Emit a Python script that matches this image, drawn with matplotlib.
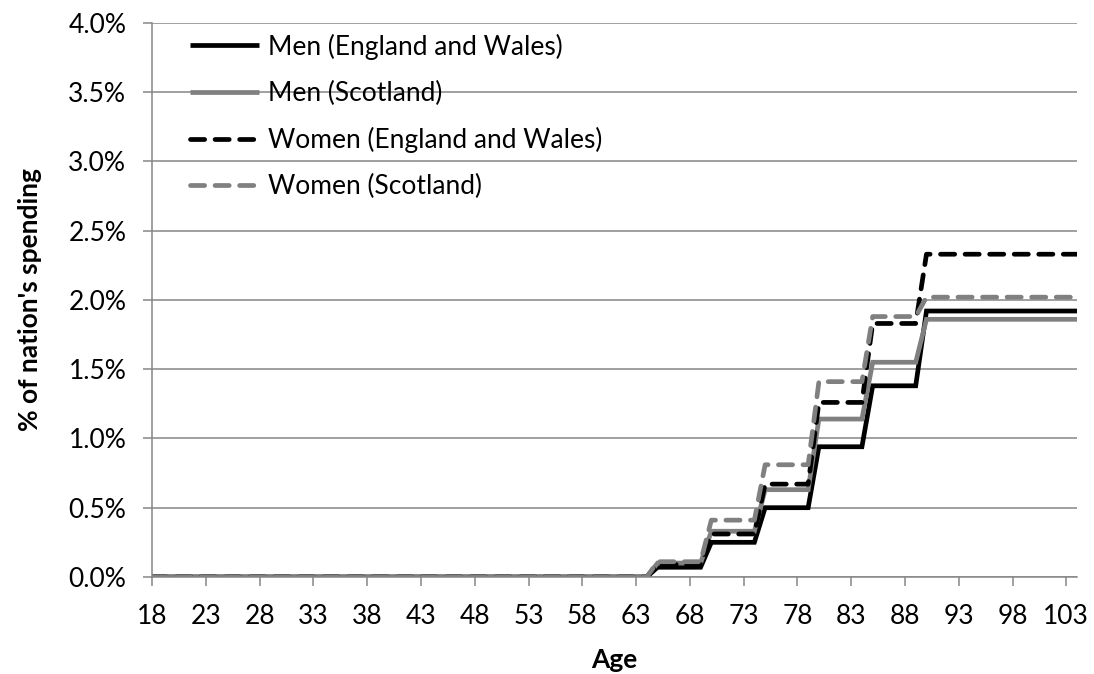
import numpy as np
import matplotlib
matplotlib.use("Agg")
import matplotlib.pyplot as plt
from matplotlib.ticker import FuncFormatter

# Age bands (first age of each band) and how many single-year ages each covers (18..104)
band_start = [18, 65, 70, 75, 80, 85, 90]
band_len = [47, 5, 5, 5, 5, 5, 15]

# % of nation's spending per age, by band
men_ew = [0.0, 0.07, 0.25, 0.50, 0.94, 1.38, 1.92]
men_sc = [0.0, 0.10, 0.33, 0.63, 1.14, 1.55, 1.86]
women_ew = [0.0, 0.09, 0.31, 0.67, 1.26, 1.83, 2.33]
women_sc = [0.0, 0.11, 0.41, 0.81, 1.41, 1.88, 2.02]

series_names = ["Men (England and Wales)", "Men (Scotland)",
                "Women (England and Wales)", "Women (Scotland)"]

ages = np.arange(band_start[0], band_start[0] + sum(band_len))

plt.rcParams['font.family'] = ['Lato', 'DejaVu Sans']

fig = plt.figure(figsize=(10.94, 6.74), dpi=100)
ax = fig.add_axes([0.139, 0.144, 0.8455, 0.822])

gray = "#808080"
lw = 3.4
styles = [
    dict(color="black", linestyle="-"),
    dict(color=gray, linestyle="-"),
    dict(color="black", linestyle=(0, (3.0, 2.2))),
    dict(color=gray, linestyle=(0, (3.0, 2.2))),
]
for vals, name, st in zip([men_ew, men_sc, women_ew, women_sc], series_names, styles):
    y = np.repeat(vals, band_len)
    ax.plot(ages, y, lw=lw, label=name, dash_capstyle="round",
            solid_capstyle="butt", solid_joinstyle="miter", **st)

ax.set_xlim(18, 104)
ax.set_ylim(0, 4.0)
ax.set_yticks(np.arange(0, 4.01, 0.5))
ax.set_xticks(np.arange(18, 104, 5))
ax.yaxis.set_major_formatter(FuncFormatter(lambda v, p: f"{v:.1f}%"))

ax.grid(axis="y", color="#868686", lw=1.1)
ax.set_axisbelow(True)
for s in ["top", "right"]:
    ax.spines[s].set_visible(False)
for s in ["left", "bottom"]:
    ax.spines[s].set_color("#868686")
    ax.spines[s].set_linewidth(1.1)
ax.tick_params(axis="both", colors="#868686", labelcolor="black", labelsize=19,
               length=6.5, width=1.1)
ax.tick_params(axis="x", pad=13)
ax.tick_params(axis="y", pad=12)

ax.set_xlabel("Age", fontsize=19, fontweight="bold", labelpad=14)
ax.set_ylabel("% of nation's spending", fontsize=19, fontweight="bold", labelpad=19)

leg = ax.legend(loc="upper left", bbox_to_anchor=(0.030, 1.0), frameon=False,
                fontsize=19, handlelength=2.6, handletextpad=0.34,
                labelspacing=0.8, borderaxespad=0.0)

fig.savefig("out.png", dpi=100)
